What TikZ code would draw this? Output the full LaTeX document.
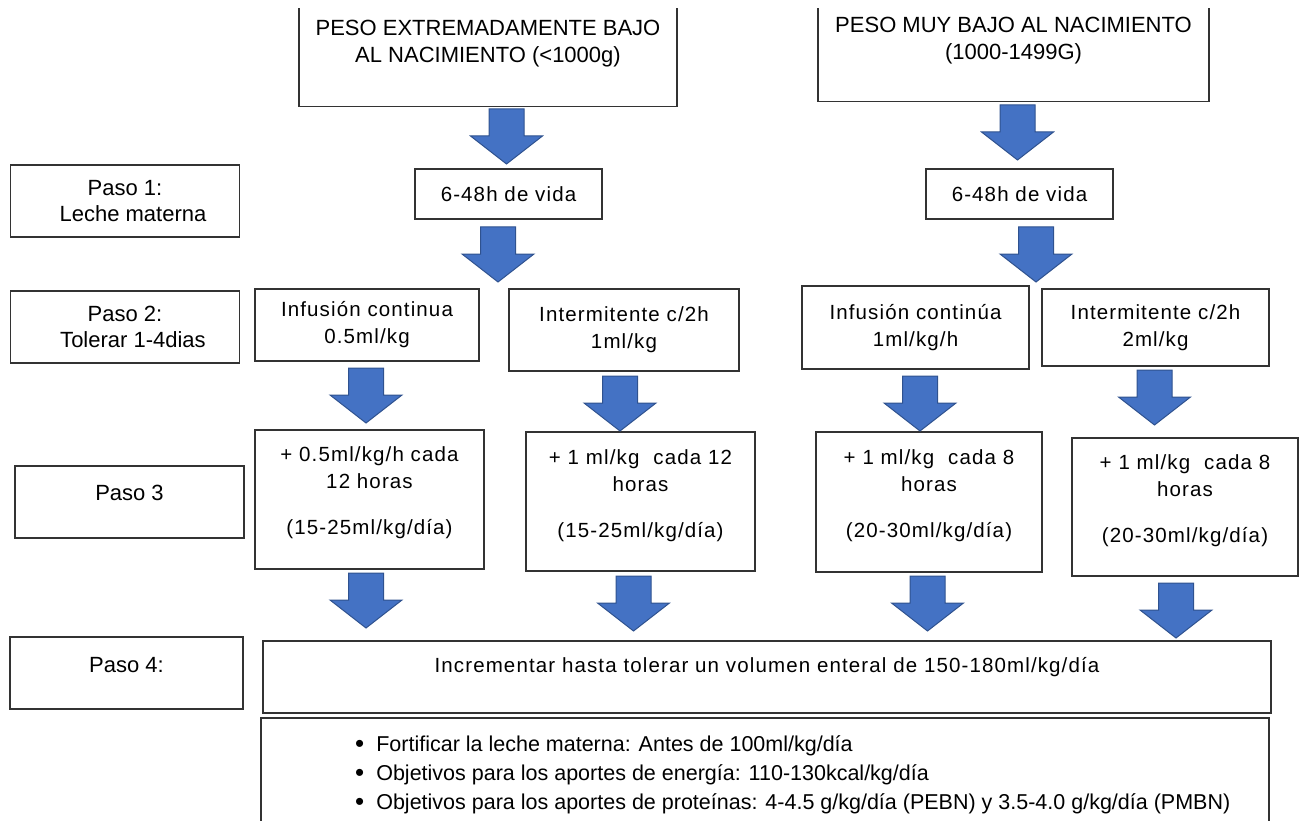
\documentclass[tikz,border=0pt]{standalone}
\usepackage{fontspec}
\setmainfont{Liberation Sans}
\newfontfamily\abierta{Liberation Sans}[LetterSpace=5.5]
\usetikzlibrary{positioning}

\definecolor{azul}{HTML}{4472C4}
\definecolor{azulborde}{HTML}{2F528F}

% block arrow pointing down, argument = top centre of the shaft
\newcommand{\flecha}[1]{%
  \draw[flecha] #1 ++(-17.5,0) -- ++(35,0) -- ++(0,27) -- ++(18.5,0)
    -- ++(-36,28) -- ++(-36,-28) -- ++(18.5,0) -- cycle;}
\newcommand{\punto}{\raisebox{-1.5pt}{\fontsize{26}{29}\selectfont\textbullet}\hspace{12pt}}

\begin{document}
\begin{tikzpicture}[x=1pt, y=-1pt,
  caja/.style={draw=black!80, line width=1.3pt, fill=white, inner sep=0pt, align=center},
  flecha/.style={fill=azul, draw=azulborde, line width=1pt, line join=miter},
  titulo/.style={font=\fontsize{22}{27}\selectfont},
  paso/.style={font=\fontsize{22}{26}\selectfont, align=center},
  dato/.style={font=\abierta\fontsize{20.5}{27}\selectfont, align=center}]

  \useasboundingbox (0,0) rectangle (1309,821);
  \clip (-10,9) rectangle (1320,830);

  % ── Birth weight groups ───────────────────────────────────────────────
  \node[caja, titulo, minimum width=378pt, minimum height=126pt] (peb) at (488,43.5)
    {PESO EXTREMADAMENTE BAJO\\AL NACIMIENTO (<1000g)};
  \node[caja, titulo, minimum width=391pt, minimum height=121pt] (pmb) at (1013.5,41)
    {PESO MUY BAJO AL NACIMIENTO\\(1000-1499G)};

  % ── Step labels (left column) ─────────────────────────────────────────
  \node[caja, paso, minimum width=229.5pt, minimum height=72pt] (paso1) at (125,201)
    {Paso 1:\\\hspace*{16pt}Leche materna};
  \node[caja, paso, minimum width=229.5pt, minimum height=72pt] (paso2) at (125,327)
    {Paso 2:\\\hspace*{16pt}Tolerar 1-4dias};
  \node[caja, minimum width=229pt, minimum height=72pt] (paso3) at (129.5,502) {};
  \node[paso] (tpaso3) at (129.5,493) {Paso 3};
  \node[caja, minimum width=233pt, minimum height=72pt] (paso4) at (126.5,673) {};
  \node[paso] (tpaso4) at (126.5,665) {Paso 4:};

  % ── Step 1 ────────────────────────────────────────────────────────────
  \node[caja, dato, minimum width=187pt, minimum height=50pt] (vida1) at (508.5,194) {6-48h de vida};
  \node[caja, dato, minimum width=187pt, minimum height=50pt] (vida2) at (1019.5,194) {6-48h de vida};

  % ── Step 2 ────────────────────────────────────────────────────────────
  \node[caja, dato, minimum width=224pt, minimum height=72pt] (inf1) at (367,325)
    {Infusión continua\\0.5ml/kg};
  \node[caja, dato, minimum width=230pt, minimum height=82pt] (int1) at (624,330)
    {Intermitente c/2h\\1ml/kg};
  \node[caja, dato, minimum width=227pt, minimum height=83pt] (inf2) at (915.5,327.5)
    {Infusión continúa\\1ml/kg/h};
  \node[caja, dato, minimum width=227pt, minimum height=77pt] (int2) at (1155.5,327.5)
    {Intermitente c/2h\\2ml/kg};

  % ── Step 3 ────────────────────────────────────────────────────────────
  \node[caja, minimum width=229pt, minimum height=139pt] (inc1) at (369.5,499.5) {};
  \node[caja, minimum width=229pt, minimum height=139pt] (inc2) at (640.5,501.5) {};
  \node[caja, minimum width=226pt, minimum height=140pt] (inc3) at (929,502) {};
  \node[caja, minimum width=226pt, minimum height=138pt] (inc4) at (1185,507) {};

  \node[dato, anchor=north, inner sep=0pt] (tinc1) at ([yshift=-17pt]inc1.north)
    {+ 0.5ml/kg/h cada\\12 horas\\[19pt](15-25ml/kg/día)};
  \node[dato, anchor=north, inner sep=0pt] (tinc2) at ([yshift=-18pt]inc2.north)
    {+ 1 ml/kg\hspace{14pt}cada 12\\horas\\[19pt](15-25ml/kg/día)};
  \node[dato, anchor=north, inner sep=0pt] (tinc3) at ([yshift=-18pt]inc3.north)
    {+ 1 ml/kg\hspace{14pt}cada 8\\horas\\[19pt](20-30ml/kg/día)};
  \node[dato, anchor=north, inner sep=0pt] (tinc4) at ([yshift=-17pt]inc4.north)
    {+ 1 ml/kg\hspace{14pt}cada 8\\horas\\[19pt](20-30ml/kg/día)};

  % ── Step 4 ────────────────────────────────────────────────────────────
  \node[caja, minimum width=1008pt, minimum height=72pt] (meta) at (767,677) {};
  \node[dato] (tmeta) at (767,667)
    {Incrementar hasta tolerar un volumen enteral de 150-180ml/kg/día};

  \node[caja, minimum width=1008pt, minimum height=122pt] (notas) at (765,779) {};
  \node[anchor=north west, inner sep=0pt, align=left,
        font=\fontsize{21.5}{29}\selectfont] (lista) at (355,735)
    {\punto Fortificar la leche materna: Antes de 100ml/kg/día\\
     \punto Objetivos para los aportes de energía: 110-130kcal/kg/día\\
     \punto Objetivos para los aportes de proteínas: 4-4.5 g/kg/día (PEBN) y 3.5-4.0 g/kg/día (PMBN)};

  % ── Block arrows ──────────────────────────────────────────────────────
  \flecha{(506.5,109)}
  \flecha{(498,227)}
  \flecha{(1017.5,105)}
  \flecha{(1036,227)}

  \flecha{(366,368)}
  \flecha{(620,376)}
  \flecha{(920,376)}
  \flecha{(1154.5,370)}

  \flecha{(366,573)}
  \flecha{(633.5,576)}
  \flecha{(927.5,576)}
  \flecha{(1176,583)}

\end{tikzpicture}
\end{document}
